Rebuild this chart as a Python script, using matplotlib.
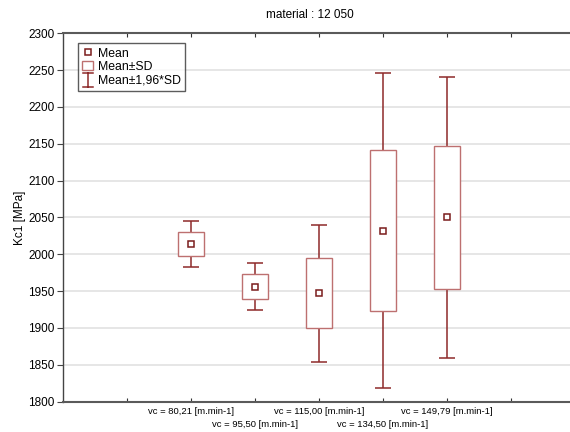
import matplotlib
matplotlib.use("Agg")
import matplotlib.pyplot as plt
from matplotlib.lines import Line2D
from matplotlib.legend_handler import HandlerBase
import numpy as np

# ── data ─────────────────────────────────────────────────────────────────────
labels = ["vc = 80,21 [m.min-1]", "vc = 95,50 [m.min-1]", "vc = 115,00 [m.min-1]",
          "vc = 134,50 [m.min-1]", "vc = 149,79 [m.min-1]"]
means = [2014, 1956, 1947, 2032, 2050]
sds   = [16.0, 16.5, 47.4, 109.3, 97.2]

positions = [2, 3, 4, 5, 6]

# ── style ────────────────────────────────────────────────────────────────────
plt.rcParams["font.family"] = ["Liberation Sans", "DejaVu Sans"]
BOX_C   = "#bd7070"
WHISK_C = "#8e2a2a"
MEAN_C  = "#7a1c1c"


class HandlerI(HandlerBase):
    # "I"-shaped whisker symbol for the legend
    def create_artists(self, legend, orig_handle, xdescent, ydescent,
                       width, height, fontsize, trans):
        cx = width / 2 - xdescent
        w = 3.5
        y0, y1 = -ydescent - 2.5, height - ydescent + 1.5
        xs = [cx - w, cx + w, np.nan, cx, cx, np.nan, cx - w, cx + w]
        ys = [y1, y1, np.nan, y1, y0, np.nan, y0, y0]
        ln = Line2D(xs, ys, color=WHISK_C, linewidth=1.1, transform=trans)
        return [ln]


fig = plt.figure(figsize=(5.7, 4.32), dpi=100)
ax = fig.add_axes([63/570, 1 - 401.5/432, (570 - 63)/570, (401.5 - 33.3)/432])

m = np.array(means)
s = np.array(sds)

ax.errorbar(positions, m, yerr=1.96 * s, fmt="none", ecolor=WHISK_C,
            elinewidth=1.1, capsize=5.5, capthick=1.1, zorder=2)
bx = ax.bar(positions, 2 * s, bottom=m - s, width=0.4, facecolor="white",
            edgecolor=BOX_C, linewidth=1.0, zorder=3)
mn, = ax.plot(positions, m, linestyle="none", marker="s", markersize=4.5,
              markerfacecolor="white", markeredgecolor=MEAN_C,
              markeredgewidth=1.1, zorder=4)
whisk_handle = Line2D([], [], color=WHISK_C)

ax.set_ylim(1800, 2300)
ax.set_yticks(np.arange(1800, 2301, 50))
ax.set_xlim(0, 507 / 64)

# upper row of category labels on major ticks, lower row on minor ticks
upper_pos = [1] + positions[0::2] + [7]
upper_lab = [""] + labels[0::2] + [""]
ax.set_xticks(upper_pos)
ax.set_xticklabels(upper_lab, fontsize=6.8)
ax.set_xticks(positions[1::2], minor=True)
ax.set_xticklabels(labels[1::2], minor=True, fontsize=6.8)

ax.grid(axis="y", color="#e4e4e4", linewidth=1.3, zorder=0)
ax.set_axisbelow(True)

ax.tick_params(axis="y", direction="out", length=4, width=0.8, labelsize=8.5,
               color="#444444", pad=2)
ax.tick_params(axis="x", which="major", direction="in", length=3, width=0.8,
               top=True, color="#333333", pad=4)
ax.tick_params(axis="x", which="minor", direction="in", length=3, width=0.8,
               top=True, color="#333333", pad=13)

for side in ["top", "bottom"]:
    ax.spines[side].set_color("#5a5a5a")
    ax.spines[side].set_linewidth(1.5)
ax.spines["left"].set_color("#444444")
ax.spines["left"].set_linewidth(1.0)
ax.spines["right"].set_visible(False)

ax.set_ylabel("Kc1 [MPa]", fontsize=8.5, labelpad=2)
fig.text(310 / 570, 1 - 15 / 432, "material : 12 050", ha="center", va="center",
         fontsize=8.5)

leg = ax.legend(handles=[mn, bx, whisk_handle],
                labels=["Mean", "Mean\u00b1SD", "Mean\u00b11,96*SD"],
                handler_map={whisk_handle: HandlerI()},
                loc="upper left", bbox_to_anchor=(15 / 507, 1 - 10 / 368.2),
                borderaxespad=0, fontsize=8.8, frameon=True, fancybox=False,
                handlelength=0.9, handletextpad=0.35, labelspacing=0.12,
                borderpad=0.35)
leg.get_frame().set_edgecolor("#333333")
leg.get_frame().set_linewidth(1.0)

plt.savefig("out.png", dpi=100)
plt.close()
